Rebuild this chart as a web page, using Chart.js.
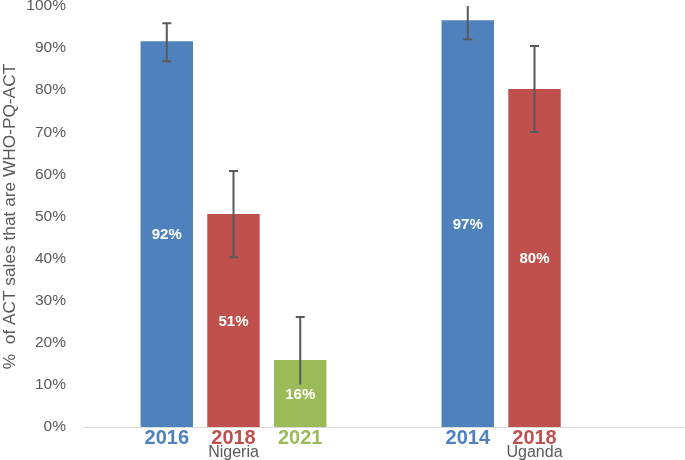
<!DOCTYPE html>
<html lang="en">
<head>
    <meta charset="UTF-8">
    <script src="https://cdn.jsdelivr.net/npm/chart.js"></script>
    <title>WHO-PQ-ACT share</title>
    <style>
        body { margin: 0; background: #fff; }
        #wrap { width: 685px; height: 460px; }
    </style>
</head>
<body>
<div id="wrap"><canvas id="chart"></canvas></div>
<script>
    // data (percent)
    const countries = ['Nigeria', 'Uganda'];
    const nigeriaYears = ['2016', '2018', '2021'];
    const nigeriaValues = [91.6, 50.6, 15.9];
    const nigeriaLow = [86.9, 40.3, 9];
    const nigeriaHigh = [95.9, 60.8, 26.1];
    const ugandaYears = ['2014', '2018'];
    const ugandaValues = [96.6, 80.3];
    const ugandaLow = [92.1, 70.1];
    const ugandaHigh = [101.1, 90.5];
    const yTicks = [0, 10, 20, 30, 40, 50, 60, 70, 80, 90, 100];
    const seriesColors = ['#4F81BD', '#C0504D', '#9BBB59'];

    const grey = '#595959';
    const font = "'Liberation Sans', Arial, sans-serif";

    // one dataset per bar position in the group
    const datasets = seriesColors.map((c, i) => ({
        label: 'series ' + (i + 1),
        data: [nigeriaValues[i] ?? null, ugandaValues[i] ?? null],
        low: [nigeriaLow[i] ?? null, ugandaLow[i] ?? null],
        high: [nigeriaHigh[i] ?? null, ugandaHigh[i] ?? null],
        years: [nigeriaYears[i] ?? '', ugandaYears[i] ?? ''],
        backgroundColor: c,
        borderWidth: 0,
        categoryPercentage: 0.665,
        barPercentage: 0.786
    }));

    const barExtras = {
        id: 'barExtras',
        afterDatasetsDraw(chart) {
            const ctx = chart.ctx;
            const area = chart.chartArea;
            const y = chart.scales.y;
            const xAxis = chart.scales.x;

            // error bars
            ctx.save();
            ctx.beginPath();
            ctx.rect(area.left, area.top, area.right - area.left, area.bottom - area.top);
            ctx.clip();
            ctx.strokeStyle = grey;
            ctx.lineWidth = 2;
            chart.data.datasets.forEach((ds, di) => {
                chart.getDatasetMeta(di).data.forEach((bar, i) => {
                    if (ds.data[i] == null) return;
                    const yl = y.getPixelForValue(ds.low[i]);
                    const yh = y.getPixelForValue(ds.high[i]);
                    ctx.beginPath();
                    ctx.moveTo(bar.x, yl);
                    ctx.lineTo(bar.x, yh);
                    ctx.moveTo(bar.x - 4.5, yl);
                    ctx.lineTo(bar.x + 4.5, yl);
                    ctx.moveTo(bar.x - 4.5, yh);
                    ctx.lineTo(bar.x + 4.5, yh);
                    ctx.stroke();
                });
            });
            ctx.restore();

            // value labels and year labels
            ctx.save();
            ctx.textAlign = 'center';
            ctx.textBaseline = 'middle';
            chart.data.datasets.forEach((ds, di) => {
                chart.getDatasetMeta(di).data.forEach((bar, i) => {
                    if (ds.data[i] == null) return;
                    const txt = Math.round(ds.data[i]) + '%';
                    const cy = (bar.y + bar.base) / 2;
                    ctx.font = 'bold 15px ' + font;
                    const w = ctx.measureText(txt).width;
                    ctx.fillStyle = ds.backgroundColor;
                    ctx.fillRect(bar.x - w / 2 - 2, cy - 9, w + 4, 18);
                    ctx.fillStyle = '#fff';
                    ctx.fillText(txt, bar.x, cy + 1);

                    ctx.font = 'bold 20px ' + font;
                    ctx.fillStyle = ds.backgroundColor;
                    ctx.fillText(ds.years[i], bar.x, xAxis.top + 11);
                });
            });
            ctx.restore();
        }
    };

    new Chart(document.getElementById('chart'), {
        type: 'bar',
        data: { labels: countries, datasets: datasets },
        options: {
            responsive: true,
            maintainAspectRatio: false,
            animation: false,
            layout: { padding: { top: 0, right: 0, bottom: 0, left: 0 } },
            plugins: { legend: { display: false }, tooltip: { enabled: false } },
            scales: {
                x: {
                    grid: { display: false, drawTicks: false },
                    border: { display: true, color: '#D9D9D9', width: 1 },
                    ticks: { color: grey, font: { family: font, size: 16 }, padding: 16 },
                    afterFit(scale) { scale.height = 33; }
                },
                y: {
                    min: 0,
                    max: 100,
                    afterBuildTicks(scale) { scale.ticks = yTicks.map(v => ({ value: v })); },
                    grid: { display: false, drawTicks: false },
                    border: { display: false },
                    ticks: {
                        color: grey,
                        font: { family: font, size: 15.5 },
                        padding: 17,
                        callback: v => v + '%'
                    },
                    title: {
                        display: true,
                        text: '%  of ACT sales that are WHO-PQ-ACT',
                        color: grey,
                        font: { family: font, size: 17.3 },
                        padding: { top: 0, bottom: 0 }
                    },
                    afterFit(scale) {
                        scale.width = 83;
                        // 100% sits right at the top of the picture
                        scale.paddingTop = 6;
                        scale.paddingBottom = 0;
                    }
                }
            }
        },
        plugins: [barExtras]
    });
</script>
</body>
</html>
